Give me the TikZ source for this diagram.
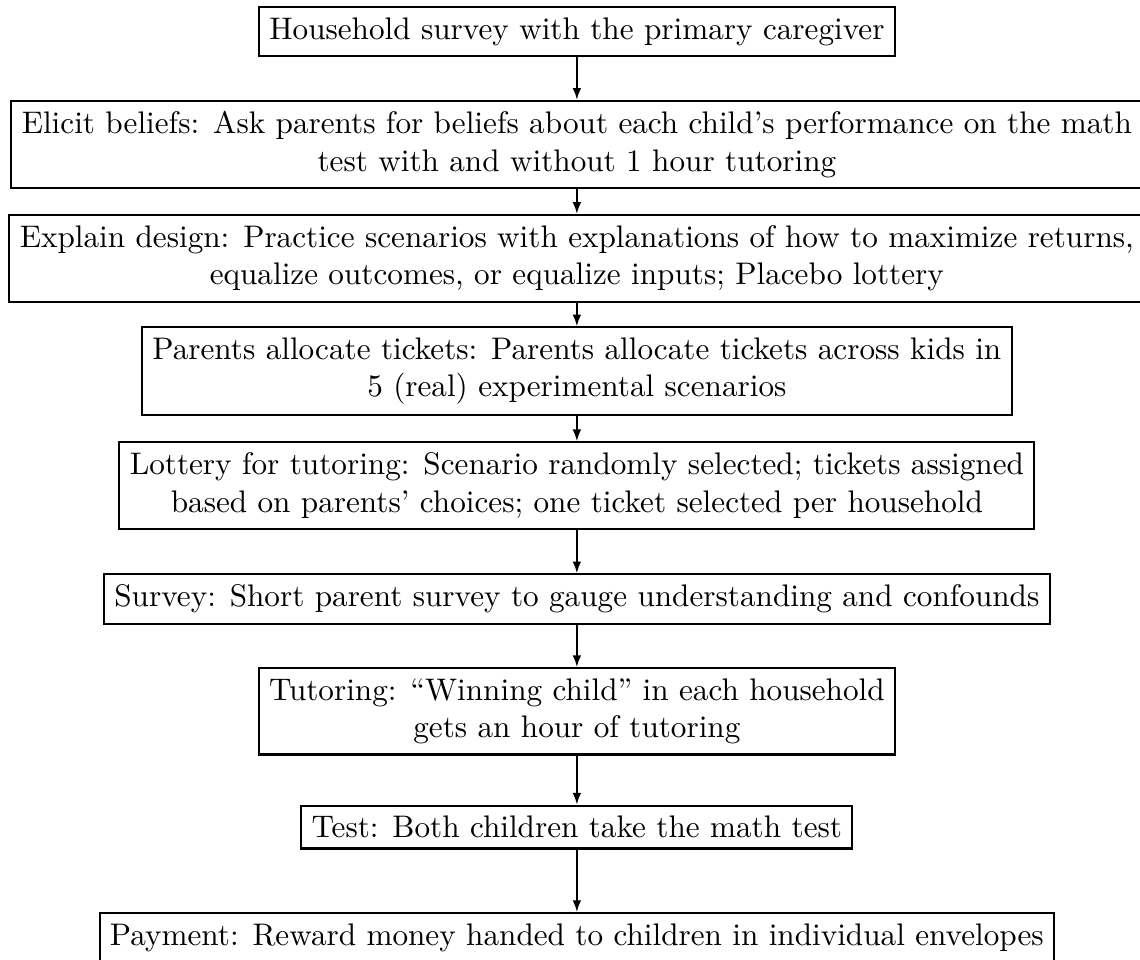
\documentclass[tikz,border=0pt]{standalone}
\usetikzlibrary{arrows.meta}
\begin{document}
\begin{tikzpicture}[x=1pt,y=1pt,
  stepbox/.style={draw, line width=0.65pt, align=center, inner sep=3.333pt},
  flow/.style={line width=0.65pt, -{Latex[length=3.8pt,width=2.8pt]}}]
\useasboundingbox (0,0) rectangle (365.4,-307.7);
\node[stepbox] (b1) at (184.9,-10.1) {Household survey with the primary caregiver};
\node[stepbox] (b2) at (184.9,-46.3) {Elicit beliefs: Ask parents for beliefs about each child's performance on the math\\ test with and without 1 hour tutoring};
\node[stepbox] (b3) at (184.9,-82.8) {Explain design: Practice scenarios with explanations of how to maximize returns,\\ equalize outcomes, or equalize inputs; Placebo lottery};
\node[stepbox] (b4) at (184.9,-119.0) {Parents allocate tickets: Parents allocate tickets across kids in\\ 5 (real) experimental scenarios};
\node[stepbox] (b5) at (184.9,-155.6) {Lottery for tutoring: Scenario randomly selected; tickets assigned\\ based on parents' choices; one ticket selected per household};
\node[stepbox] (b6) at (184.9,-192.0) {Survey: Short parent survey to gauge understanding and confounds};
\node[stepbox] (b7) at (184.9,-228.0) {Tutoring: ``Winning child'' in each household\\ gets an hour of tutoring};
\node[stepbox] (b8) at (184.9,-265.1) {Test: Both children take the math test};
\node[stepbox] (b9) at (184.9,-300.5) {Payment: Reward money handed to children in individual envelopes};
\draw[flow] (b1.south) -- (b2.north);
\draw[flow] (b2.south) -- (b3.north);
\draw[flow] (b3.south) -- (b4.north);
\draw[flow] (b4.south) -- (b5.north);
\draw[flow] (b5.south) -- (b6.north);
\draw[flow] (b6.south) -- (b7.north);
\draw[flow] (b7.south) -- (b8.north);
\draw[flow] (b8.south) -- (b9.north);
\end{tikzpicture}
\end{document}
